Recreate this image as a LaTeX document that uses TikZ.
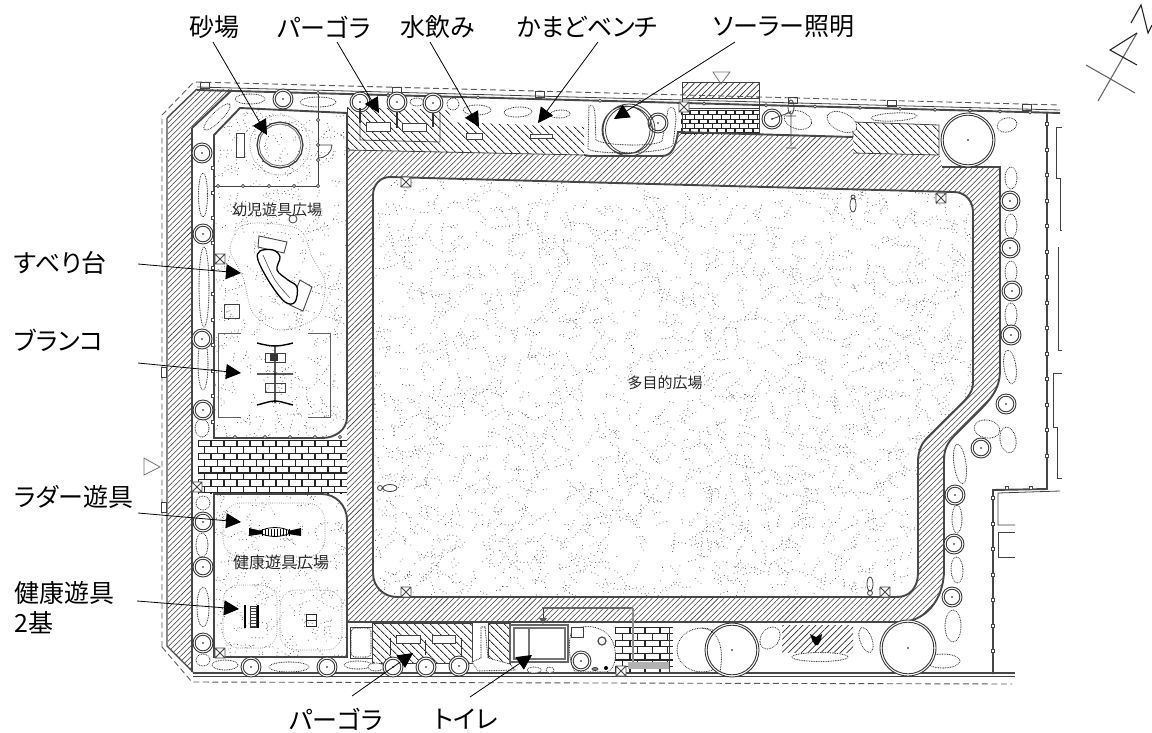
\documentclass[tikz,border=0pt]{standalone}
\usepackage{fontspec}
\setmainfont[RawFeature={+palt}]{Noto Sans CJK JP}
\usetikzlibrary{patterns.meta,arrows.meta,calc}
\tikzset{
 lbl/.style={font=\fontsize{25}{28}\selectfont,inner sep=0pt,text=black},
 plantxt/.style={font=\fontsize{15}{18}\selectfont,inner sep=0pt,text=black!85},
 callout/.style={black,line width=.8pt,-{Triangle[length=15pt,width=15pt]}},
 wall/.style={draw=black!72,line width=1.9pt},
 thinl/.style={draw=black!75,line width=.8pt},
 dashb/.style={draw=black!65,line width=.9pt,dash pattern=on 6pt off 3.5pt},
 shrub/.style={draw=black!85,line width=1.1pt,dash pattern=on .01pt off 1.7pt,line cap=round},
 zone/.style={draw=black!48,line width=1pt,dash pattern=on .01pt off 2.2pt,line cap=round},
 chain/.style={draw=black!68,line width=1pt,dash pattern=on .01pt off 3.6pt,line cap=round},
 hatchmain/.style={pattern={Lines[angle=45,distance=3.9pt,line width=.55pt]},pattern color=black!78},
 hatchrev/.style={pattern={Lines[angle=-45,distance=5.4pt,line width=.95pt]},pattern color=black!82},
 hatchwide/.style={pattern={Lines[angle=45,distance=4.6pt,line width=.75pt]},pattern color=black!82},
 brickl/.style={draw=black!85,line width=1.15pt},
}
\newcommand\mytree[3]{\filldraw[draw=black!78,fill=white,line width=.9pt] (#1,#2) circle (#3);
 \draw[draw=black!78,line width=.9pt] (#1,#2) circle ({#3-2.2});
 \fill[black] (#1,#2) circle (.9);}
\newcommand\myxbox[2]{\draw[draw=black!72,fill=white,line width=.8pt] ({#1-5},{#2-5}) rectangle ({#1+5},{#2+5}) ({#1-5},{#2-5}) -- ({#1+5},{#2+5}) ({#1-5},{#2+5}) -- ({#1+5},{#2-5});}
\newcommand\myshrub[5]{\filldraw[shrub,fill=white,rotate around={#5:(#1,#2)}] (#1,#2) ellipse ({#3} and {#4});}
\newcommand\mypost[2]{\draw[draw=black!72,fill=white,line width=.7pt] ({#1-1.8},{#2-1.8}) rectangle ({#1+1.8},{#2+1.8});}
\newcommand\mychains[5]{\foreach \i in {1,...,#5}{%
 \pgfmathsetmacro\cx{#1+rnd*(#3-#1)}\pgfmathsetmacro\cy{#2+rnd*(#4-#2)}%
 \pgfmathsetmacro\ca{rnd*360}\pgfmathsetmacro\cl{2+rnd*12}\pgfmathsetmacro\cb{rnd*40-20}%
 \draw[chain] (\cx,\cy) to[bend left=\cb] ++(\ca:\cl);}}
\newcommand\mybricks[6]{\begin{scope}\clip (#1,#2) rectangle (#3,#4);
 \pgfmathtruncatemacro\nr{(#4-#2)/#6}\pgfmathtruncatemacro\nc{(#3-#1)/#5+1}
 \foreach \r in {0,...,\nr}{\draw[brickl] (#1,{#2+\r*#6}) -- (#3,{#2+\r*#6});
  \pgfmathsetmacro\off{mod(\r,2)*#5/2}
  \foreach \c in {0,...,\nc}{\draw[brickl] ({#1+\off+\c*#5},{#2+\r*#6}) -- ++(0,#6);}}
 \end{scope}}
\def\fieldpath{(390,177) -- (954,192) .. controls (965,192) and (973,201) .. (973,212) -- (973,383) .. controls (973,395) and (962,403) .. (950,415) -- (930,435) .. controls (922,442) and (918,450) .. (918,462) -- (918,573) .. controls (918,587) and (910,597) .. (897,597) -- (397,597) .. controls (384,597) and (373,587) .. (373,573) -- (373,195) .. controls (373,185) and (380,177) .. (390,177) -- cycle}
\def\outerpath{(347,150) -- (584,155) -- (590,156) -- (662,156) .. controls (672,156) and (676,146) .. (678,132) -- (853,137) -- (853,153) -- (940,155) -- (942,167) -- (1000,167) -- (1000,370) .. controls (1000,390) and (990,400) .. (975,415) -- (955,435) .. controls (947,443) and (944,450) .. (944,460) -- (944,570) .. controls (944,600) and (925,622) .. (900,622) -- (347,622) -- cycle}
\def\playA{(214,135) -- (240,108) -- (347,113) -- (347,417) .. controls (347,430) and (335,438) .. (322,438) -- (214,438) -- cycle}
\def\playB{(214,494) -- (322,494) .. controls (335,494) and (347,505) .. (347,520) -- (347,657) -- (214,657) -- cycle}
\begin{document}
\begin{tikzpicture}[x=1pt,y=-1pt]
\useasboundingbox (0,0) rectangle (1152,732);
\fill[white] (0,0) rectangle (1152,732);
\pgfmathsetseed{4711}
% stipple
\begin{scope}\clip \fieldpath; \mychains{365}{170}{980}{600}{2400}\end{scope}
\begin{scope}\clip \playA; \mychains{210}{105}{350}{440}{420}\end{scope}
\begin{scope}\clip \playB; \mychains{210}{490}{350}{660}{210}\end{scope}
% hatching
\path[hatchmain,even odd rule] \outerpath \fieldpath;
\path[hatchmain] (168,118) -- (197,89) -- (232,89) -- (192,128) -- (192,672) -- (168,646) -- cycle;
\path[hatchrev] (347,107) -- (450,110) -- (450,122) -- (584,127) -- (584,155) -- (347,150) -- cycle;
\path[hatchrev] (853,122) -- (939,125) -- (939,155) -- (853,153) -- cycle;
\path[hatchrev] (372,623) rectangle (472,663);
\path[hatchrev] (488,623) rectangle (510,663);
\path[hatchwide] (682,82) rectangle (759,98);
\path[hatchwide] (782,625) rectangle (853,652);
% bricks
\fill[white] (198,440) rectangle (347,493);
\mybricks{198}{440}{347}{493}{13}{6.6}
\mybricks{681}{110}{759}{134}{9}{4.6}
\mybricks{615}{627}{673}{673}{15}{6.6}
\fill[white] (192,441) rectangle (198,484);
% outlines of field and bands
\draw[wall] \fieldpath;
\draw[wall] (584,155) -- (590,156) -- (662,156) .. controls (672,156) and (676,146) .. (678,132) -- (853,137);
\draw[wall] (942,167) -- (1000,167) -- (1000,370) .. controls (1000,390) and (990,400) .. (975,415) -- (955,435) .. controls (947,443) and (944,450) .. (944,460) -- (944,570) .. controls (944,600) and (925,622) .. (900,622) -- (347,622);
\draw[thinl] (347,150) -- (584,155);
\draw[thinl] (853,137) -- (853,122) -- (939,125) -- (939,155) -- (853,153);
\draw[thinl] (372,623) rectangle (472,663) (488,623) rectangle (510,663);
\draw[wall] \playA; \draw[wall] \playB;
\draw[wall] (192,128) -- (192,672);
\draw[wall] (232,90) -- (192,128);
\draw[wall,line width=1.4pt] (167,118) -- (167,646) -- (193,672);
\draw[wall,line width=1.4pt] (167,118) -- (197,89);
\draw[thinl] (347,107) -- (347,150);
% top and bottom boundary
\draw[wall] (197,90) -- (1060,113);
\draw[thinl] (197,87) -- (1060,110);
\draw[wall] (193,673) -- (1015,673);
\draw[thinl] (193,676) -- (1015,676);
\draw[dashb] (162,647) -- (162,115) -- (193,83) -- (197,82) -- (1060,105);
\draw[dashb] (162,647) -- (192,682) -- (1012,684);
\foreach \tx in {200,392,535,788,887,1022}{\draw[thinl] (\tx,{82+(\tx-197)*.0267}) rectangle ({\tx+9},{88+(\tx-197)*.0267});}
\filldraw[thinl,fill=white] (161,367) rectangle (166,377);
\filldraw[thinl,fill=white] (161,502) rectangle (166,512);
% right boundary
\draw[wall] (1047,112) -- (1047,489) -- (993,490) -- (993,674);
\draw[thinl] (1060,491) -- (998,493) -- (998,525) -- (1015,525);
\draw[thinl] (998,532) -- (1015,532) (998,532) -- (998,557) -- (1015,557);
\draw[thinl] (1056,127) -- (1062,127) (1056,127) -- (1056,178) -- (1060,178) -- (1060,230) -- (1062,230);
\draw[thinl] (1058,247) -- (1058,350) -- (1062,350);
\draw[thinl] (1062,373) -- (1053,373) -- (1053,427) -- (1057,427) -- (1057,478) -- (1062,478);
\foreach \py in {124,150,175,201,226,252,277,303,328,354,379,405,430,456}{\mypost{1047}{\py}}
\foreach \px in {1007,1031}{\mypost{\px}{488}}
\foreach \py in {498,524,549,575,600,626,651}{\mypost{993}{\py}}
\foreach \py in {168,193,218,243,268,294,320,345,371,396,422}{\mypost{213}{\py}}
\foreach \px in {388,440,478,600,640,704,766,815,860,900,935,970,1000,1030}{\fill[white] (\px,{90+(\px-197)*.0267}) circle (1.6);\draw[thinl] (\px,{90+(\px-197)*.0267}) circle (1.6);}
\foreach \px in {235,265,290,315,340}{\filldraw[thinl,fill=white] (\px,437) circle (1.6);}
% shrubs
\myshrub{250}{99}{15}{5}{0}\myshrub{318}{102}{18}{5}{0}\myshrub{217}{117}{18}{5}{45}
\myshrub{203}{195}{4.5}{22}{0}\myshrub{204}{287}{5}{40}{0}\myshrub{203}{364}{5}{26}{0}
\myshrub{202}{428}{7}{9}{0}\myshrub{203}{503}{7}{7}{0}\myshrub{202}{545}{6}{12}{0}
\myshrub{203}{607}{6}{20}{0}\myshrub{203}{660}{7}{6}{0}\myshrub{225}{665}{13}{5}{0}\myshrub{289}{667}{20}{5}{0}
\myshrub{417}{102}{7}{4}{0}\myshrub{453}{104}{6}{6}{0}\myshrub{477}{110}{14}{5}{0}\myshrub{518}{112}{14}{5}{3}\myshrub{560}{114}{10}{4}{3}
\myshrub{1011}{178}{6}{11}{0}\myshrub{1011}{226}{6}{12}{0}\myshrub{1011}{272}{6}{11}{0}\myshrub{1011}{315}{6}{12}{0}
\myshrub{1010}{367}{6}{17}{8}\myshrub{987}{429}{13}{9}{-10}\myshrub{1008}{440}{8}{13}{10}\myshrub{960}{464}{6}{20}{8}
\myshrub{957}{519}{5}{14}{0}\myshrub{957}{570}{6}{13}{3}\myshrub{953}{626}{8}{16}{0}
\myshrub{798}{120}{14}{9}{-15}\myshrub{842}{122}{16}{9}{-25}\myshrub{894}{117}{23}{4}{3}\myshrub{1007}{125}{10}{7}{15}
\myshrub{820}{657}{28}{4.5}{0}\myshrub{770}{638}{9}{12}{-35}\myshrub{866}{640}{6}{13}{20}
\myshrub{943}{661}{17}{7}{0}\myshrub{702}{650}{25}{22}{0}
\myshrub{358}{665}{14}{4}{0}\myshrub{376}{667}{8}{4}{0}\myshrub{534}{670}{7}{3}{0}\myshrub{550}{670}{4}{3}{0}
% top planter
\filldraw[shrub,fill=white] (589,106) .. controls (593,104) and (595,108) .. (595,115) -- (596,140) .. controls (605,146) and (655,147) .. (662,141) -- (668,110) .. controls (672,104) and (676,108) .. (676,120) -- (673,145) .. controls (668,154) and (595,155) .. (588,149) -- cycle;
% bottom planter and shrub box
\filldraw[thinl,fill=white] (350,627) rectangle (372,658);
\filldraw[shrub,fill=white,rounded corners=4pt] (351,628) rectangle (371,657);
\filldraw[shrub,fill=white] (485,627) -- (488,658) -- (510,664) -- (515,670) -- (478,671) -- (472,662) -- (481,658) -- (481,627) -- cycle;
\filldraw[shrub,fill=white] (572,630) .. controls (590,622) and (612,628) .. (615,650) .. controls (617,662) and (612,672) .. (606,672) -- (575,672) .. controls (568,660) and (568,640) .. (572,630) -- cycle;
% trees
\foreach \tx/\ty in {202/153,203/234,202/339,203/410,203/522,203/567,203/643,283/99,360/102,397/102,433/103,251/667,327/667,393/667,426/667,459/666,658/123,772/119,1010/201,1010/248,1012/291,1011/335,1006/404,981/448,955/495,954/544,952/597,581/661}{\mytree{\tx}{\ty}{10}}
\draw[thinl] (629,130) circle (26) (629,130) circle (23.5) (626,130) circle (24);
\mytree{968}{140}{27}\mytree{732}{650}{27}\mytree{908}{648}{28}
\draw[shrub] (702,628) .. controls (720,630) and (724,650) .. (720,672);
% sandbox
\draw[zone] (280,145) circle (30);
\draw[draw=black!78,line width=1.2pt] (280,145) +(0:23) \foreach \a in {22.5,45,...,360}{-- +(\a:23)} -- cycle;
\draw[draw=black!60,line width=.8pt] (280,145) +(0:21) \foreach \a in {22.5,45,...,360}{-- +(\a:21)} -- cycle;
\draw[thinl] (236,133) rectangle (244,157);
\draw[thinl] (318,93) -- (318,186) -- (215,186);
\foreach \px in {218,243,269,294,318}{\filldraw[thinl,fill=white] (\px,186) circle (1.6);}
\foreach \py in {93,120,145,160}{\filldraw[thinl,fill=white] (318,\py) circle (1.6);}
\draw[thinl] (318,145) -- (332,145) .. controls (332,152) and (326,158) .. (318,158);
% slide
\draw[zone] plot[smooth cycle] coordinates {(263,223) (300,230) (312,257) (325,283) (317,317) (280,330) (253,313) (243,277) (230,250) (240,227)};
\filldraw[draw=black!72,fill=white,line width=.9pt] (259,236) -- (287,242) -- (284,253) -- (258,247) -- cycle;
\filldraw[draw=black!72,fill=white,line width=.9pt] (300,280) -- (312,287) -- (303,311) -- (290,305) -- cycle;
\filldraw[draw=black,fill=white,line width=1.3pt] plot[smooth cycle,tension=.6] coordinates {(260,251) (258,260) (270,283) (285,302) (295,302) (297,287) (288,280) (277,270) (280,257) (273,250)};
\draw[black!70,line width=.6pt] plot[smooth] coordinates {(263,255) (275,280) (290,298)};
\draw[thinl,line width=.9pt] (224,304) rectangle (239,318);
\filldraw[thinl,fill=white] (293,219) circle (4);
% swing
\draw[draw=black!62,line width=1pt] (241,333) -- (218,333) -- (218,417) -- (241,417) (308,333) -- (330,333) -- (330,417) -- (308,417);
\draw[black,line width=1.4pt] (275,345) -- (275,403) (257,343) .. controls (265,345) and (270,346) .. (275,346) .. controls (280,346) and (285,345) .. (293,343) (257,374) -- (293,374) (257,405) .. controls (265,403) and (270,401) .. (275,401) .. controls (280,401) and (285,403) .. (293,405);
\draw[thinl,line width=.9pt] (265,353) rectangle (285,362) (265,383) rectangle (285,392);
\fill[black!80] (270,354) rectangle (278,361);
% ladder
\draw[zone,rounded corners=18pt] (223,503) rectangle (325,557);
\draw[zone,rounded corners=16pt] (223,585) rectangle (277,648);
\draw[zone,rounded corners=16pt] (280,590) rectangle (342,650);
\fill[black] (249,528) -- (262,531) -- (262,534) -- (249,536) -- cycle (301,528) -- (288,531) -- (288,534) -- (301,536) -- cycle;
\draw[black,line width=.8pt] (258,532) .. controls (268,526) and (282,526) .. (292,532) .. controls (282,538) and (268,538) .. (258,532) -- cycle;
\foreach \lx in {262,265,...,289}{\draw[black,line width=.7pt] (\lx,528.5) -- (\lx,535.5);}
% fitness
\draw[black,line width=1.1pt] (245,605) -- (245,628) (258,605) -- (258,628);
\foreach \ly in {608,611,...,626}{\draw[black!75,line width=.7pt] (250,\ly) -- (256,\ly);}
\draw[black!80,line width=.7pt] (250,606) rectangle (256,627);
\draw[black!85,line width=1pt] (306,614) rectangle (316,626) (306,620) -- (316,620);
% top pergola details
\filldraw[thinl,fill=white] (366,122) rectangle (390,131);
\filldraw[thinl,fill=white] (402,123) rectangle (426,131);
\draw[thinl] (360,112) -- (360,140) -- (440,142) -- (440,113);
\draw[black!80,line width=1.1pt] (360,108) -- (360,123) (397,112) -- (397,128) (433,113) -- (433,127);
\filldraw[thinl,fill=white] (466,133) rectangle (482,139);
\filldraw[thinl,fill=white] (530,134) rectangle (552,138);
\draw[thinl] (682,82) rectangle (759,98) (682,98) -- (682,134) (759,98) -- (759,134) (682,108) -- (759,108);
\draw[draw=black!55,line width=.8pt] (713,72) -- (730,72) -- (721,84) -- cycle;
\draw[draw=black!55,line width=.8pt] (144,458) -- (160,467) -- (144,475) -- cycle;
% lamp marker
\draw[thinl] (791,107) ellipse (3 and 7) (786,116) -- (796,116) (791,114) -- (791,146) (786,148) -- (796,148);
\draw[thinl] (772,119) -- (791,112);
% small persons
\draw[thinl] (853,205) ellipse (3 and 7) (853,197) circle (2);
\draw[thinl] (390,488) ellipse (7 and 3.5) (380,488) circle (2.5);
\draw[thinl] (870,584) ellipse (3 and 7) (870,593) circle (2.5);
% x boxes
\myxbox{220}{259}\myxbox{406}{182}\myxbox{941}{198}\myxbox{684}{107}\myxbox{197}{487}\myxbox{406}{592}\myxbox{220}{653}\myxbox{885}{592}\myxbox{621}{671}
% bottom pergola
\filldraw[thinl,fill=white] (396,635) rectangle (420,643);
\filldraw[thinl,fill=white] (432,635) rectangle (455,643);
\draw[black!80,line width=1pt] (390,638) -- (390,655) (425,640) -- (425,655) (461,638) -- (461,655);
% toilet
\filldraw[draw=black!60,fill=white,line width=2pt] (510,625) rectangle (568,662);
\draw[draw=black!55,line width=2pt] (514,628) rectangle (565,659) (529,628) -- (529,659);
\draw[draw=black!60,line width=2.5pt] (542,608) -- (633,608);
\draw[draw=black!45,line width=2.5pt] (633,608) -- (633,664);
\draw[thinl] (543,608) -- (543,622);
\fill[black!65] (539,618) -- (547,618) -- (543,624) -- cycle;
\filldraw[thinl,fill=white] (571,627) rectangle (583,637);
\draw[black!70,line width=1.2pt] (602,641) circle (4);
\fill[black] (606,668) circle (2);
\draw[thinl,fill=black!50] (595,669) ellipse (3 and 1.5);
\fill[black!30] (628,662) rectangle (669,669);
\draw[thinl] (669,627) -- (669,673);
% butterfly
\fill[black] (810,634) -- (816,637) -- (822,634) -- (821,640) -- (818,645) -- (815,645) -- (812,640) -- cycle;
% plan texts
\node[plantxt] (tFree) at (665,383) {多目的広場};
\node[plantxt] (tInfant) at (277,210) {幼児遊具広場};
\node[plantxt,font=\fontsize{16}{18}\selectfont] (tHealth) at (281,562) {健康遊具広場};
% north mark
\coordinate (nA) at (1098,101); \coordinate (nB) at (1137,33); \coordinate (nC) at (1110,50); \coordinate (nD) at (1137,65);
\coordinate (nE) at (1086,65); \coordinate (nF) at (1135,93);
\draw[black!60,line width=1.1pt] (nA) -- (nB) (nE) -- (nF);
\draw[black!85,line width=1.1pt] (nB) -- (nC) -- (nD);
\coordinate (nG) at (1131,23); \coordinate (nH) at (1141,5); \coordinate (nI) at (1148,33); \coordinate (nJ) at (1152,25);
\draw[black!85,line width=1.1pt] (nG) -- (nH) -- (nI) -- (nJ);
% labels
\node[lbl] (sand) at (214,27) {砂場};
\node[lbl] (perT) at (324,27) {パーゴラ};
\node[lbl] (water) at (438,27) {水飲み};
\node[lbl] (bench) at (587,27) {かまどベンチ};
\node[lbl] (solar) at (784,27) {ソーラー照明};
\node[lbl,anchor=west] (slide) at (14,263) {すべり台};
\node[lbl,anchor=west] (swing) at (14,340) {ブランコ};
\node[lbl,anchor=west] (ladder) at (14,497) {ラダー遊具};
\node[lbl,anchor=west,align=left,font=\fontsize{25}{30}\selectfont] (fit) at (14,608) {健康遊具\\2基};
\node[lbl] (perB) at (336,719) {パーゴラ};
\node[lbl] (toilet) at (466,719) {トイレ};
% callouts
\coordinate (sandS) at (213,42); \coordinate (sandT) at (267,135);
\coordinate (perTS) at (337,42); \coordinate (perTT) at (379,113);
\coordinate (waterS) at (430,42); \coordinate (waterT) at (479,127);
\coordinate (benchS) at (598,42); \coordinate (benchT) at (538,123);
\coordinate (solarS) at (735,42); \coordinate (solarT) at (614,119);
\coordinate (slideS) at (138,264); \coordinate (slideT) at (241,273);
\coordinate (swingS) at (138,363); \coordinate (swingT) at (241,373);
\coordinate (ladderS) at (138,513); \coordinate (ladderT) at (241,522);
\coordinate (fitS) at (137,601); \coordinate (fitT) at (239,609);
\coordinate (perBS) at (352,696); \coordinate (perBT) at (413,653);
\coordinate (toiletS) at (470,697); \coordinate (toiletT) at (532,655);
\foreach \n in {sand,perT,water,bench,solar,slide,swing,ladder,fit,perB,toilet}{\draw[callout] (\n S) -- (\n T);}
\end{tikzpicture}
\end{document}
